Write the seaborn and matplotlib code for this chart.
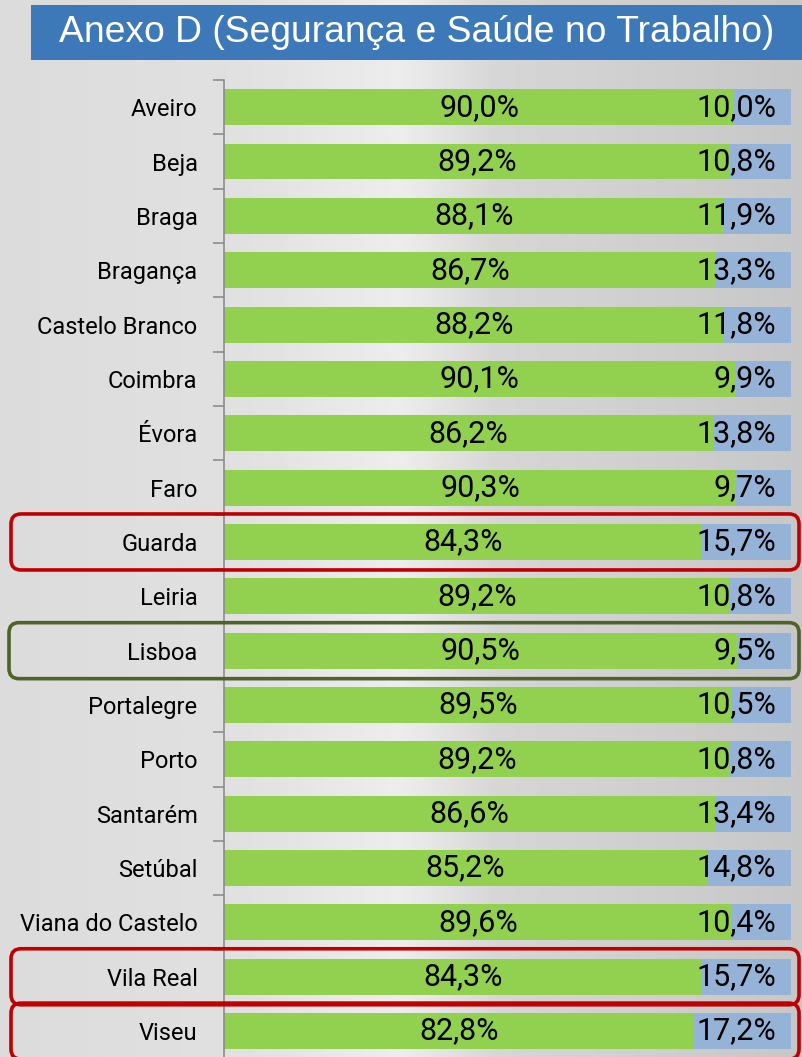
import matplotlib
matplotlib.use("Agg")
import matplotlib.pyplot as plt
import matplotlib.ticker as tkr
from matplotlib.patches import FancyBboxPatch, Rectangle
import numpy as np
import pandas as pd
import seaborn as sns

# data
districts = ["Aveiro", "Beja", "Braga", "Bragança", "Castelo Branco", "Coimbra",
             "Évora", "Faro", "Guarda", "Leiria", "Lisboa", "Portalegre", "Porto",
             "Santarém", "Setúbal", "Viana do Castelo", "Vila Real", "Viseu"]
green_pct = [90.0, 89.2, 88.1, 86.7, 88.2, 90.1, 86.2, 90.3, 84.3, 89.2, 90.5,
             89.5, 89.2, 86.6, 85.2, 89.6, 84.3, 82.8]
blue_pct = [10.0, 10.8, 11.9, 13.3, 11.8, 9.9, 13.8, 9.7, 15.7, 10.8, 9.5,
            10.5, 10.8, 13.4, 14.8, 10.4, 15.7, 17.2]
red_marked = ["Guarda", "Vila Real", "Viseu"]
green_marked = ["Lisboa"]
title = "Anexo D (Segurança e Saúde no Trabalho)"

GREEN = "#92D050"
BLUE = "#95B3D7"
LABEL_FONT = ["Roboto", "DejaVu Sans"]

df = pd.DataFrame({"District": districts, "Green": green_pct, "Blue": blue_pct})
df["Total"] = df["Green"] + df["Blue"]

sns.set_style("white")
W, H = 802, 1057
fig = plt.figure(figsize=(W / 100, H / 100), dpi=100)

# background: soft gray gradient
bg = fig.add_axes([0, 0, 1, 1], zorder=-10)
xs = np.linspace(0, 1, 400)
shade = np.interp(xs, [0, 0.3, 0.5, 0.62, 1], [0.86, 0.88, 0.93, 0.84, 0.78])
bg.imshow(np.tile(shade, (10, 1)), cmap="gray", vmin=0, vmax=1, aspect="auto",
          extent=[0, 1, 0, 1])
bg.set_axis_off()

ax = fig.add_axes([224 / W, -4 / H, (791 - 224) / W, (1057 - 80 + 4) / H])
ax.patch.set_alpha(0)

sns.barplot(data=df, y="District", x="Total", color=BLUE, orient="h",
            width=0.66, ax=ax, saturation=1, linewidth=0)
sns.barplot(data=df, y="District", x="Green", color=GREEN, orient="h",
            width=0.66, ax=ax, saturation=1, linewidth=0)

ax.set_xlim(0, 100)
ax.set_ylim(len(districts) - 0.45, -0.5)
ax.set_xlabel("")
ax.set_ylabel("")
ax.set_xticks([])
for s in ["top", "right", "bottom"]:
    ax.spines[s].set_visible(False)
ax.spines["left"].set_color("#8c8c8c")
ax.spines["left"].set_linewidth(1.2)

ax.yaxis.set_minor_locator(tkr.FixedLocator(np.arange(-0.5, len(districts), 1)))
ax.tick_params(axis="y", which="major", left=False, length=0, pad=19)
ax.tick_params(axis="y", which="minor", left=True, length=8, width=1.2,
               color="#8c8c8c", direction="out")
for lbl in ax.get_yticklabels():
    lbl.set_fontfamily(LABEL_FONT)
    lbl.set_fontsize(17)
    lbl.set_color("black")

for i, (g, b) in enumerate(zip(green_pct, blue_pct)):
    ax.text(g / 2, i, f"{g:.1f}%".replace(".", ","), ha="center", va="center",
            fontsize=22, family=LABEL_FONT, color="black")
    ax.annotate(f"{b:.1f}%".replace(".", ","), xy=(g + b, i), xytext=(-15, 0),
                textcoords="offset pixels", ha="right", va="center",
                fontsize=22, family=LABEL_FONT, color="black")

# title box
fig.patches.append(Rectangle((31 / W, 1 - 60 / H), (W - 31) / W, 55 / H,
                             transform=fig.transFigure, facecolor="#3D79B8",
                             edgecolor="none"))
fig.text((31 + W) / 2 / W, 1 - 33 / H, title, ha="center", va="center",
         color="white", fontsize=26.8, family=["Liberation Sans", "DejaVu Sans"])

# highlight boxes around rows
fig.canvas.draw()
for name, col, x0 in [(n, "#C00000", 11) for n in red_marked] + \
        [(n, "#4F6228", 9) for n in green_marked]:
    i = districts.index(name)
    _, yc = ax.transData.transform((0, i))
    box = FancyBboxPatch((x0, yc - 28), 799 - x0, 56,
                         boxstyle="round,pad=0,rounding_size=10",
                         transform=None, facecolor="none", edgecolor=col,
                         linewidth=2.6, zorder=20)
    fig.patches.append(box)

fig.savefig("out.png", dpi=100)
